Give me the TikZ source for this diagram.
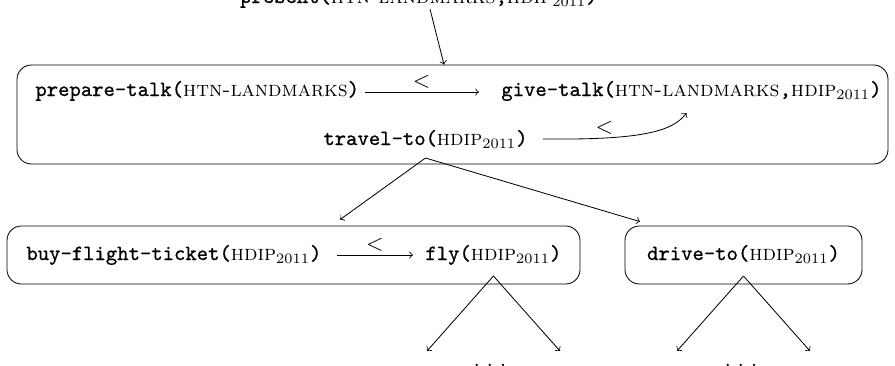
\documentclass[tikz,border=0pt]{standalone}
\usetikzlibrary{calc,fit}
\font\ttboldx="[lmmono10-regular.otf]:embolden=0.8" at 10.5pt
\newcommand\TTx[1]{{\ttboldx #1}}
\newcommand\HDIPx{\textsc{hdip}$_{2011}$}
\newcommand\HTNx{\textsc{htn-landmarks}}
\begin{document}
\begin{tikzpicture}[x=0.4854pt,y=-0.4854pt,>=to,line width=0.4pt,
  box/.style={draw,rounded corners=7pt,inner sep=0pt},
  txt/.style={inner sep=0pt,font=\fontsize{10.5}{12.6}\selectfont},
  lbl/.style={inner sep=1.5pt,font=\fontsize{10.5}{12.6}\selectfont}]
\useasboundingbox (0,0) rectangle (895,365);
\clip (0,0) rectangle (895,365);
% top task
\node[txt,anchor=base east] (present) at (598,3) {\TTx{present(}\HTNx\TTx{,}\HDIPx\TTx{)}};
% top box
\node[box,fit={(17,65) (888,164)}] (topbox) {};
\node[txt,anchor=base west] (prep) at (35,96) {\TTx{prepare-talk(}\HTNx\TTx{)}};
\node[txt,anchor=base east] (give) at (882,96) {\TTx{give-talk(}\HTNx\TTx{,}\HDIPx\TTx{)}};
\node[txt,anchor=base west] (travel) at (323,145) {\TTx{travel-to(}\HDIPx\TTx{)}};
% bottom boxes
\node[box,fit={(7,226) (580,284)}] (buybox) {};
\node[box,fit={(625,226) (862,284)}] (drivebox) {};
\node[txt,anchor=base west] (buy) at (26,260) {\TTx{buy-flight-ticket(}\HDIPx\TTx{)}};
\node[txt,anchor=base west] (fly) at (425,260) {\TTx{fly(}\HDIPx\TTx{)}};
\node[txt,anchor=base] (drive) at (743.5,260) {\TTx{drive-to(}\HDIPx\TTx{)}};
\node[txt,anchor=base] (dotsA) at (490,366) {.\ .\ .};
\node[txt,anchor=base] (dotsB) at (741,366) {.\ .\ .};
% coordinates
\coordinate (presentfoot) at (430,9);
\coordinate (talktip) at ($(give.base)+(-5,17)$);
\coordinate (travelapex) at ($(travel.base)+(0,13)$);
\coordinate (flyapex) at ($(fly.base)+(0,16)$);
\coordinate (driveapex) at ($(drive.base)+(0,16)$);
\coordinate (flyL) at (427,351);
\coordinate (flyR) at (560,351);
\coordinate (driveL) at (677,351);
\coordinate (driveR) at (810,351);
% connectors
\draw[->] (presentfoot) -- ($(topbox.north)+(-8.5,0)$);
\draw[->] ($(prep.base east)+(5,-4)$) -- node[lbl,above]{$<$} ($(give.base west)+(-22,-4)$);
\draw[->] ($(travel.base east)+(15,-6)$) .. controls (640,140) and (672,132) .. node[lbl,pos=0.25,above]{$<$} (talktip);
\draw[->] (travelapex) -- ($(buybox.north)+(46.5,-6)$);
\draw[->] (travelapex) -- ($(drivebox.north)+(-103.5,-4)$);
\draw[->] ($(buy.base east)+(15,-5)$) -- node[lbl,above]{$<$} ($(fly.base west)+(-12,-5)$);
\draw[->] (flyapex) -- (flyL);
\draw[->] (flyapex) -- (flyR);
\draw[->] (driveapex) -- (driveL);
\draw[->] (driveapex) -- (driveR);
\end{tikzpicture}
\end{document}
